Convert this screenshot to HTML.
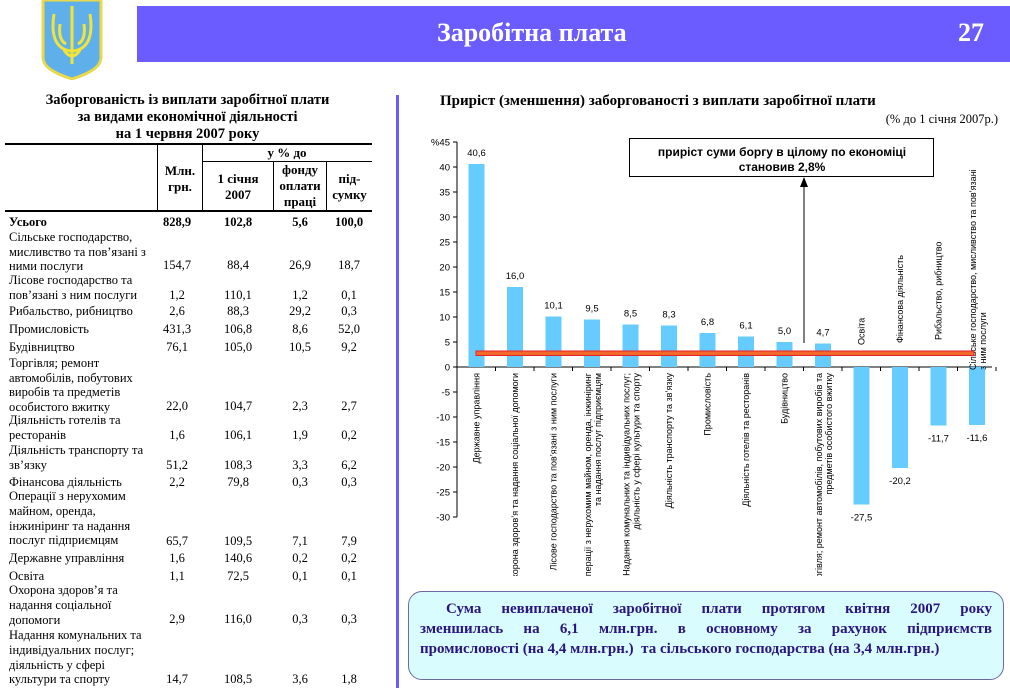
<!DOCTYPE html>
<html><head><meta charset="utf-8">
<style>
body{margin:0;width:1010px;height:688px;position:relative;background:#fff;overflow:hidden;font-family:"Liberation Serif",serif;}
.a{position:absolute;white-space:nowrap;}
.t{font-size:12.5px;color:#000;}
.n{position:absolute;font-size:12.5px;text-align:center;width:60px;}
.bl{position:absolute;left:420px;width:572px;font-size:15px;font-weight:bold;color:#2a1480;text-align:justify;text-align-last:justify;white-space:normal;}
</style></head><body>
<svg class="a" style="left:40px;top:0" width="64" height="80" viewBox="0 0 64 80">
<path d="M3 0 H61 V58 Q61 70 32 79 Q3 70 3 58 Z" fill="#5fb0ea" stroke="#e8d84a" stroke-width="3"/>
<path d="M32 6 V56 M14 14 Q10 40 22 48 Q32 54 42 48 Q54 40 50 14 M20 24 Q18 40 26 44 M44 24 Q46 40 38 44 M24 50 Q32 62 40 50 M32 56 V64" stroke="#f2e23a" stroke-width="3" fill="none"/>
</svg>
<div class="a" style="left:137px;top:6px;width:873px;height:56px;background:#6b5cff;"></div>
<div class="a" style="left:437px;top:18px;font-size:26px;font-weight:bold;color:#fff;">Заробітна плата</div>
<div class="a" style="left:958px;top:18px;font-size:26px;font-weight:bold;color:#fff;">27</div>
<div class="a" style="left:396px;top:95px;width:3px;height:593px;background:#6b5cff;"></div>

<div class="a" style="left:-5px;top:92px;width:385px;text-align:center;font-size:14.5px;font-weight:bold;line-height:17px;">Заборгованість із виплати заробітної плати<br>за видами економічної діяльності<br>на 1 червня 2007 року</div>
<div class="a" style="left:5px;top:143px;width:367px;height:1.5px;background:#000"></div>
<div class="a" style="left:202px;top:161px;width:170px;height:1px;background:#000"></div>
<div class="a" style="left:5px;top:210px;width:367px;height:1.5px;background:#000"></div>
<div class="a" style="left:157px;top:143px;width:1px;height:68px;background:#000"></div>
<div class="a" style="left:202px;top:143px;width:1px;height:68px;background:#000"></div>
<div class="a" style="left:273px;top:161px;width:1px;height:50px;background:#000"></div>
<div class="a" style="left:326px;top:161px;width:1px;height:50px;background:#000"></div>
<div class="a" style="left:202px;top:145px;width:170px;text-align:center;font-size:13px;font-weight:bold">у % до</div>
<div class="a" style="left:158px;top:163px;width:44px;text-align:center;font-size:13px;font-weight:bold;line-height:16px;white-space:normal">Млн.<br>грн.</div>
<div class="a" style="left:203px;top:171px;width:70px;text-align:center;font-size:13px;font-weight:bold;line-height:16px;">1 січня<br>2007</div>
<div class="a" style="left:274px;top:162px;width:52px;text-align:center;font-size:13px;font-weight:bold;line-height:16px;">фонду<br>оплати<br>праці</div>
<div class="a" style="left:327px;top:171px;width:45px;text-align:center;font-size:13px;font-weight:bold;line-height:16px;">під-<br>сумку</div>

<div class="a t" style="left:9px;top:215px;font-weight:bold;line-height:15px">Усього</div>
<div class="a t" style="left:9px;top:230px;line-height:14.5px">Сільське господарство,<br>мисливство та пов’язані з<br>ними послуги</div>
<div class="a t" style="left:9px;top:273px;line-height:14.5px">Лісове господарство  та<br>пов’язані з ним послуги</div>
<div class="a t" style="left:9px;top:304px">Рибальство, рибництво</div>
<div class="a t" style="left:9px;top:322px">Промисловість</div>
<div class="a t" style="left:9px;top:340px">Будівництво</div>
<div class="a t" style="left:9px;top:356px;line-height:14.5px">Торгівля; ремонт<br>автомобілів, побутових<br>виробів та предметів<br>особистого вжитку</div>
<div class="a t" style="left:9px;top:413px;line-height:14.5px">Діяльність готелів та<br>ресторанів</div>
<div class="a t" style="left:9px;top:443px;line-height:14.5px">Діяльність транспорту та<br>зв’язку</div>
<div class="a t" style="left:9px;top:475px">Фінансова діяльність</div>
<div class="a t" style="left:9px;top:489px;line-height:14.8px">Операції з нерухомим<br>майном, оренда,<br>інжиніринг та надання<br>послуг підприємцям</div>
<div class="a t" style="left:9px;top:551px">Державне управління</div>
<div class="a t" style="left:9px;top:569px">Освіта</div>
<div class="a t" style="left:9px;top:583px;line-height:14.8px">Охорона здоров’я та<br>надання соціальної<br>допомоги</div>
<div class="a t" style="left:9px;top:628px;line-height:14.8px">Надання комунальних та<br>індивідуальних послуг;<br>діяльність у сфері<br>культури та спорту</div>

<div id="nums"></div>
<script>
var rows=[[215,'828,9','102,8','5,6','100,0',1],[258,'154,7','88,4','26,9','18,7'],[288,'1,2','110,1','1,2','0,1'],[304,'2,6','88,3','29,2','0,3'],[322,'431,3','106,8','8,6','52,0'],[340,'76,1','105,0','10,5','9,2'],[399,'22,0','104,7','2,3','2,7'],[428,'1,6','106,1','1,9','0,2'],[458,'51,2','108,3','3,3','6,2'],[475,'2,2','79,8','0,3','0,3'],[534,'65,7','109,5','7,1','7,9'],[551,'1,6','140,6','0,2','0,2'],[569,'1,1','72,5','0,1','0,1'],[612,'2,9','116,0','0,3','0,3'],[672,'14,7','108,5','3,6','1,8']];
var cx=[177,238,300,349],h='';
rows.forEach(function(r){for(var i=0;i<4;i++)h+='<div class="n" style="left:'+(cx[i]-30)+'px;top:'+r[0]+'px;'+(r[5]?'font-weight:bold':'')+'">'+r[i+1]+'</div>';});
document.getElementById('nums').innerHTML=h;
</script>

<div class="a" style="left:440px;top:93px;font-size:15px;font-weight:bold">Приріст (зменшення) заборгованості з виплати заробітної плати</div>
<div class="a" style="right:12px;top:112px;font-size:12.5px">(% до 1 січня 2007р.)</div>

<svg class="a" style="left:0;top:0" width="1010" height="688" font-family="Liberation Sans, sans-serif">
<defs><clipPath id="c"><rect x="440" y="130" width="570" height="446"/></clipPath></defs>
<g id="ch"></g>
</svg>
<script>
var g=document.getElementById('ch'),s='',lab='';
function Y(v){return 367-v*5;}
s+='<line x1="457" y1="142" x2="457" y2="517" stroke="#000" stroke-width="1"/>';
s+='<line x1="457" y1="367" x2="992" y2="367" stroke="#000" stroke-width="1"/>';
for(var v=45;v>=-30;v-=5){var y=Y(v);s+='<line x1="453" y1="'+y+'" x2="457" y2="'+y+'" stroke="#000"/>';s+='<text x="450" y="'+(y+3.5)+'" font-size="9.5" text-anchor="end">'+(v==45?'%45':v)+'</text>';}
for(var k=1;k<=14;k++){var x=457+k*38.5;s+='<line x1="'+x+'" y1="367" x2="'+x+'" y2="371" stroke="#000"/>';}
var vals=[40.6,16.0,10.1,9.5,8.5,8.3,6.8,6.1,5.0,4.7,-27.5,-20.2,-11.7,-11.6];
var labs=[["Державне управління"],["Охорона здоров’я та надання соціальної допомоги"],["Лісове господарство та пов’язані з ним послуги"],["Операції з нерухомим майном, оренда, інжиніринг","та надання послуг підприємцям"],["Надання комунальних та індивідуальних послуг;","діяльність у сфері культури та спорту"],["Діяльність транспорту та зв’язку"],["Промисловість"],["Діяльність готелів та ресторанів"],["Будівництво"],["Торгівля; ремонт автомобілів, побутових виробів та","предметів особистого вжитку"],["Освіта"],["Фінансова діяльність"],["Рибальство, рибництво"],["Сільське господарство, мисливство та пов’язані","з ним послуги"]];
var negY={10:345,11:343,12:340,13:370};
vals.forEach(function(v,i){var c=476.5+i*38.5;var y0=Math.min(Y(v),367),hh=Math.abs(v*5);
s+='<rect x="'+(c-8)+'" y="'+y0+'" width="16" height="'+hh+'" fill="#66ccff"/>';
var t=(''+v.toFixed(1)).replace('.',',');
if(v>0)s+='<text x="'+c+'" y="'+(Y(v)-8)+'" font-size="9.5" text-anchor="middle">'+t+'</text>';
else s+='<text x="'+c+'" y="'+(Y(v)+16)+'" font-size="9.5" text-anchor="middle">'+t+'</text>';
var L=labs[i];
L.forEach(function(l,j){var x=c+(L.length>1?(j==0?-4:6):0)+3;
if(v>0){
 lab+='<text transform="translate('+x+',373) rotate(-90)" font-size="9" text-anchor="end">'+l+'</text>';
}else{
 s+='<text transform="translate('+x+','+negY[i]+') rotate(-90)" font-size="9" text-anchor="start">'+l+'</text>';
}});
});
s+='<g clip-path="url(#c)">'+lab+'</g>';
s+='<rect x="476" y="351" width="498" height="4.5" fill="#f26a2a" stroke="#e8202a" stroke-width="1"/>';
s+='<line x1="804" y1="343" x2="804" y2="186" stroke="#000"/><polygon points="800,187 808,187 804,177" fill="#000"/>';
s+='<rect x="629.5" y="138.5" width="304" height="38" fill="#fff" stroke="#000"/>';
s+='<text x="782" y="156" font-size="12" font-weight="bold" text-anchor="middle">приріст суми боргу в цілому по економіці</text>';
s+='<text x="782" y="171" font-size="12" font-weight="bold" text-anchor="middle">становив 2,8%</text>';
g.innerHTML=s;
</script>

<div class="a" style="left:408px;top:591px;width:596px;height:89px;box-sizing:border-box;border:1.5px solid #6a6aa0;border-radius:14px;background:#d9fdfe;"></div>
<div class="bl" style="top:601px;left:446px;width:546px;">Сума невиплаченої заробітної плати протягом квітня 2007 року</div>
<div class="bl" style="top:621px;">зменшилась на 6,1 млн.грн. в основному за рахунок підприємств</div>
<div class="bl" style="top:641px;text-align-last:left;">промисловості (на 4,4 млн.грн.)&nbsp; та сільського господарства (на 3,4 млн.грн.)</div>
</body></html>
